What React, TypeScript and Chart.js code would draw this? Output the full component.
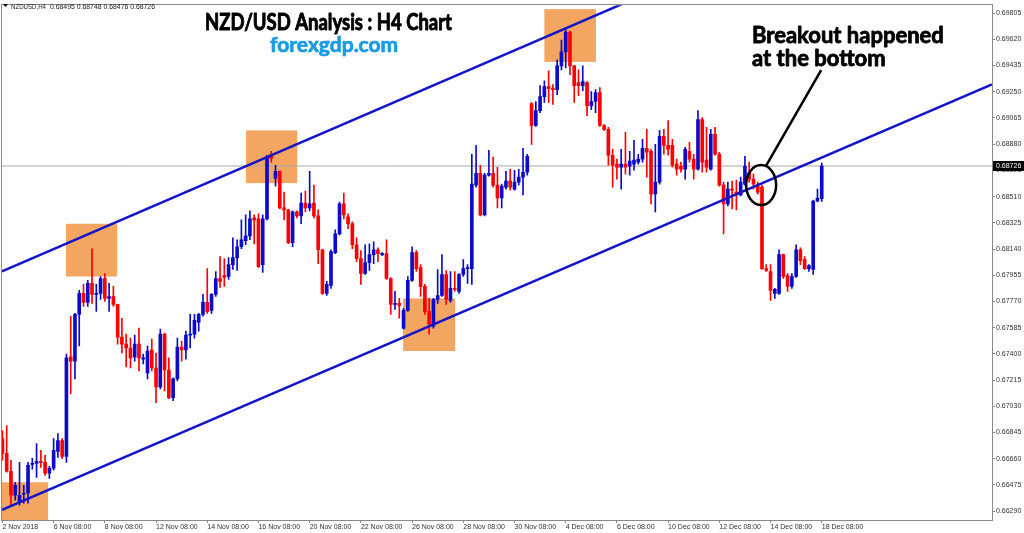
import { useEffect, useRef } from "react";
import { Chart, registerables } from "chart.js";

Chart.register(...registerables);

// ---------------- data (NZD/USD H4 candles) ----------------
const openP = [
  0.66802, 0.66697, 0.66571, 0.66402, 0.66353, 0.66409, 0.66416, 0.6662, 0.66627, 0.66641,
  0.66634, 0.66557, 0.66592, 0.66711, 0.66788, 0.66676, 0.67378, 0.67349, 0.67679, 0.67827,
  0.67763, 0.67897, 0.6782, 0.67827, 0.67932, 0.67791, 0.67805, 0.67749, 0.67518, 0.67469,
  0.67441, 0.67378, 0.67469, 0.67363, 0.67265, 0.67427, 0.673, 0.67167, 0.67539, 0.67286,
  0.6709, 0.67223, 0.67448, 0.67427, 0.67532, 0.67539, 0.67623, 0.67679, 0.67763, 0.67707,
  0.6782, 0.67932, 0.67953, 0.67946, 0.6803, 0.68079, 0.68156, 0.68198, 0.68233, 0.6836,
  0.68353, 0.6803, 0.68353, 0.68795, 0.6864, 0.68689, 0.6843, 0.68416, 0.68184, 0.68402,
  0.68374, 0.68465, 0.6843, 0.68465, 0.68374, 0.68135, 0.67827, 0.67883, 0.68114, 0.68247,
  0.68458, 0.68367, 0.68318, 0.6817, 0.68072, 0.67967, 0.68044, 0.681, 0.68135, 0.681,
  0.68107, 0.67932, 0.67749, 0.67756, 0.67581, 0.67707, 0.67918, 0.68114, 0.68009, 0.67876,
  0.677, 0.67595, 0.67784, 0.67812, 0.6796, 0.67777, 0.67862, 0.67841, 0.6796, 0.68002,
  0.68002, 0.68591, 0.68675, 0.68381, 0.68661, 0.68675, 0.68591, 0.685, 0.68577, 0.68619,
  0.68563, 0.68612, 0.68647, 0.68682, 0.69167, 0.69012, 0.69117, 0.69216, 0.69286, 0.69272,
  0.69265, 0.69433, 0.69531, 0.69672, 0.69433, 0.69314, 0.69293, 0.69314, 0.69152, 0.69181,
  0.69244, 0.69012, 0.68984, 0.68802, 0.68739, 0.68717, 0.68739, 0.68724, 0.68739, 0.68753,
  0.68774, 0.68851, 0.6883, 0.68528, 0.68612, 0.68935, 0.68872, 0.68872, 0.68739, 0.68724,
  0.68703, 0.6883, 0.68774, 0.68703, 0.69054, 0.68767, 0.68703, 0.68949, 0.68809, 0.68591,
  0.68458, 0.68563, 0.68542, 0.68521, 0.68598, 0.68682, 0.68633, 0.68584, 0.68577, 0.68002,
  0.67981, 0.67827, 0.67827, 0.681, 0.67953, 0.67876, 0.67946, 0.68135, 0.68065, 0.68002,
  0.67995, 0.68479, 0.68495,
];
const highP = [
  0.66858, 0.66893, 0.66648, 0.66493, 0.66634, 0.66472, 0.66634, 0.66662, 0.66767, 0.66718,
  0.66683, 0.66606, 0.66802, 0.66837, 0.66802, 0.67399, 0.67665, 0.67686, 0.67848, 0.6789,
  0.67918, 0.68142, 0.6789, 0.67946, 0.67967, 0.67897, 0.67876, 0.67752, 0.67651, 0.67539,
  0.67511, 0.67532, 0.67581, 0.67399, 0.67455, 0.67504, 0.67406, 0.67574, 0.67546, 0.67371,
  0.6723, 0.67511, 0.6749, 0.6756, 0.67679, 0.67679, 0.67686, 0.6782, 0.68002, 0.67826,
  0.67981, 0.68086, 0.68072, 0.68079, 0.68219, 0.68205, 0.68346, 0.68381, 0.68409, 0.68381,
  0.68388, 0.68381, 0.68802, 0.6883, 0.68731, 0.68692, 0.68542, 0.6842, 0.68409, 0.68409,
  0.68535, 0.68549, 0.68689, 0.68591, 0.68416, 0.68138, 0.67911, 0.68135, 0.68275, 0.68472,
  0.68535, 0.68388, 0.68332, 0.68219, 0.68128, 0.6817, 0.68177, 0.68191, 0.68149, 0.68114,
  0.68205, 0.67939, 0.67841, 0.67791, 0.67721, 0.67946, 0.68156, 0.68128, 0.6803, 0.6789,
  0.67791, 0.67791, 0.67995, 0.681, 0.67988, 0.67981, 0.67981, 0.67967, 0.68065, 0.6803,
  0.68809, 0.68872, 0.68731, 0.68675, 0.68837, 0.68788, 0.68717, 0.68598, 0.68689, 0.68703,
  0.68696, 0.68703, 0.68851, 0.68809, 0.69174, 0.69181, 0.69293, 0.69328, 0.69398, 0.693,
  0.69475, 0.69615, 0.69693, 0.69679, 0.69436, 0.69405, 0.69433, 0.69321, 0.69251, 0.69265,
  0.69279, 0.69019, 0.68998, 0.68844, 0.68774, 0.68844, 0.68963, 0.6883, 0.68907, 0.68809,
  0.68914, 0.68984, 0.68844, 0.68879, 0.68977, 0.68984, 0.69047, 0.68914, 0.68774, 0.68753,
  0.68858, 0.68893, 0.68809, 0.69117, 0.69068, 0.68998, 0.68984, 0.68998, 0.68823, 0.68612,
  0.68612, 0.68619, 0.68626, 0.68647, 0.68795, 0.68753, 0.68668, 0.68612, 0.68591, 0.6803,
  0.6803, 0.67862, 0.68135, 0.68104, 0.67967, 0.67967, 0.6817, 0.68149, 0.68086, 0.6803,
  0.68486, 0.68563, 0.68748,
];
const lowP = [
  0.66648, 0.66564, 0.66332, 0.66367, 0.66332, 0.66346, 0.66346, 0.66585, 0.66528, 0.66599,
  0.66542, 0.66521, 0.66578, 0.66669, 0.66662, 0.66634, 0.67118, 0.67223, 0.67455, 0.67735,
  0.67735, 0.67756, 0.677, 0.67784, 0.6777, 0.677, 0.67735, 0.67469, 0.67406, 0.67307,
  0.673, 0.67349, 0.67279, 0.67328, 0.67223, 0.67279, 0.67055, 0.67153, 0.67139, 0.67083,
  0.67069, 0.67209, 0.67349, 0.67363, 0.67441, 0.67511, 0.6756, 0.67665, 0.67686, 0.67686,
  0.67805, 0.67869, 0.67876, 0.67925, 0.67995, 0.67988, 0.68142, 0.6817, 0.68205, 0.68177,
  0.6801, 0.67974, 0.68346, 0.68753, 0.68584, 0.68423, 0.68346, 0.68177, 0.68156, 0.6836,
  0.68318, 0.68402, 0.68409, 0.6836, 0.68037, 0.6782, 0.67812, 0.67862, 0.68107, 0.6824,
  0.68353, 0.68283, 0.68142, 0.68051, 0.6789, 0.6796, 0.67988, 0.68037, 0.68051, 0.68093,
  0.67925, 0.67679, 0.67714, 0.67651, 0.67574, 0.677, 0.67911, 0.67981, 0.67805, 0.67679,
  0.67539, 0.67581, 0.67756, 0.67805, 0.67749, 0.67763, 0.67841, 0.67827, 0.67946, 0.67897,
  0.6789, 0.68577, 0.68374, 0.68374, 0.68654, 0.68577, 0.6843, 0.6843, 0.68563, 0.68556,
  0.68556, 0.68591, 0.68521, 0.68661, 0.68879, 0.69005, 0.69103, 0.69174, 0.69174, 0.6916,
  0.6923, 0.69405, 0.69419, 0.6937, 0.69174, 0.69223, 0.69258, 0.69082, 0.69124, 0.69103,
  0.69005, 0.68977, 0.68731, 0.68577, 0.68633, 0.68563, 0.68668, 0.68661, 0.68696, 0.68739,
  0.68753, 0.68647, 0.68458, 0.68402, 0.68598, 0.68809, 0.68802, 0.68717, 0.68661, 0.68682,
  0.68633, 0.68753, 0.68633, 0.68696, 0.68682, 0.68682, 0.68696, 0.68802, 0.68584, 0.68247,
  0.68444, 0.68423, 0.68416, 0.68514, 0.68591, 0.68612, 0.68563, 0.68528, 0.67995, 0.67981,
  0.67777, 0.67791, 0.6782, 0.67932, 0.67841, 0.67862, 0.67939, 0.6803, 0.67995, 0.67981,
  0.6796, 0.68472, 0.68476,
];
const closeP = [
  0.66697, 0.66571, 0.66402, 0.66472, 0.66402, 0.66416, 0.66613, 0.66627, 0.66641, 0.66634,
  0.66557, 0.66592, 0.66718, 0.66788, 0.66676, 0.67371, 0.67349, 0.67679, 0.67827, 0.67763,
  0.67897, 0.6782, 0.67827, 0.67932, 0.67791, 0.67805, 0.67749, 0.67518, 0.67469, 0.67441,
  0.67371, 0.67469, 0.67371, 0.67371, 0.6742, 0.673, 0.67167, 0.67539, 0.67286, 0.6709,
  0.67223, 0.67448, 0.67427, 0.67532, 0.67539, 0.67637, 0.67679, 0.67763, 0.677, 0.6782,
  0.67932, 0.67911, 0.67939, 0.6803, 0.68079, 0.68156, 0.68205, 0.68233, 0.68353, 0.68346,
  0.68016, 0.68353, 0.68788, 0.68781, 0.68689, 0.6843, 0.68416, 0.68184, 0.68402, 0.68374,
  0.68465, 0.6843, 0.68458, 0.68374, 0.68135, 0.67827, 0.6789, 0.68121, 0.68247, 0.68458,
  0.68381, 0.68318, 0.6817, 0.68072, 0.67967, 0.68044, 0.681, 0.68135, 0.68107, 0.68107,
  0.67932, 0.67749, 0.67756, 0.67742, 0.67707, 0.67918, 0.68114, 0.68002, 0.67876, 0.677,
  0.67609, 0.67784, 0.67812, 0.6796, 0.67784, 0.67862, 0.67855, 0.6796, 0.68002, 0.68009,
  0.68598, 0.68675, 0.68381, 0.68661, 0.68675, 0.68591, 0.685, 0.68584, 0.68619, 0.68577,
  0.68612, 0.68647, 0.68682, 0.68795, 0.69012, 0.69117, 0.69216, 0.69286, 0.69272, 0.69265,
  0.69433, 0.69531, 0.69672, 0.69433, 0.69293, 0.69293, 0.69321, 0.69152, 0.69181, 0.69244,
  0.69012, 0.68984, 0.68802, 0.68731, 0.68717, 0.68739, 0.68717, 0.6876, 0.68767, 0.68774,
  0.68851, 0.68823, 0.68528, 0.68612, 0.68935, 0.68872, 0.68844, 0.68731, 0.68703, 0.68703,
  0.68844, 0.68774, 0.68703, 0.69054, 0.68753, 0.68717, 0.68949, 0.68809, 0.68591, 0.68458,
  0.68563, 0.68556, 0.68521, 0.68612, 0.68724, 0.68633, 0.68598, 0.68542, 0.68002, 0.67988,
  0.67848, 0.67855, 0.681, 0.67946, 0.67876, 0.67946, 0.68135, 0.68058, 0.68002, 0.68023,
  0.68479, 0.685, 0.68726,
];

const xTickLabels = [
  "2 Nov 2018", "6 Nov 08:00", "8 Nov 08:00", "12 Nov 08:00", "14 Nov 08:00", "16 Nov 08:00",
  "20 Nov 08:00", "22 Nov 08:00", "26 Nov 08:00", "28 Nov 08:00", "30 Nov 08:00", "4 Dec 08:00",
  "6 Dec 08:00", "10 Dec 08:00", "12 Dec 08:00", "14 Dec 08:00", "18 Dec 08:00",
];
const barsPerLabel = 12;

const yTickValues = [
  0.6629, 0.66475, 0.6666, 0.66845, 0.6703, 0.67215, 0.674, 0.67585, 0.6777, 0.67955,
  0.6814, 0.68325, 0.6851, 0.68695, 0.6888, 0.69065, 0.6925, 0.69435, 0.6962, 0.69805,
];

const lastPrice = 0.68726;
const headerSymbol = "NZDUSD,H4";
const headerOHLC = "0.68495 0.68748 0.68476 0.68726";

// view window (bar index / price)
const X_MIN = -0.1;
const X_MAX = 231.9;
const Y_MIN = 0.66227;
const Y_MAX = 0.69861;

// channel lines: price at the left and at the right edge of the view
const upperChannel = [0.67982, 0.70995];
const lowerChannel = [0.66298, 0.69302];

// highlighted zones: bar index range and price range
const zoneFrom = [-0.1, 14.9, 57.1, 93.9, 127.0];
const zoneTo = [10.7, 26.9, 69.1, 106.1, 139.1];
const zoneTop = [0.66493, 0.68318, 0.68977, 0.67791, 0.69833];
const zoneBottom = [0.66227, 0.67946, 0.68605, 0.6742, 0.69461];

// breakout marker (bar index, price)
const breakoutBar = 177.8;
const breakoutPrice = 0.68591;

const titleText = "NZD/USD Analysis : H4 Chart";
const siteText = "forexgdp.com";
const noteLine1 = "Breakout happened";
const noteLine2 = "at the bottom";

// ---------------- styles ----------------
const BULL = "rgb(12,12,200)";
const BEAR = "rgb(255,0,0)";
const LINE_BLUE = "rgb(20,20,200)";
const ZONE = "#F3A562";
const FRAME = "#8a8a8a";
const AXIS_TEXT = "#333333";

const isBull = (i: number) => closeP[i] >= openP[i];

function heavyText(ctx: any, text: string, x: number, y: number, maxW: number, color: string, weight: number) {
  ctx.fillStyle = color;
  ctx.strokeStyle = color;
  ctx.lineWidth = weight;
  ctx.lineJoin = "round";
  ctx.fillText(text, x, y, maxW);
  ctx.strokeText(text, x, y, maxW);
}

const overlayPlugin = {
  id: "overlay",
  beforeDatasetsDraw(chart: any) {
    const { ctx, chartArea, scales } = chart;
    const xs = scales.x;
    const ys = scales.y;
    ctx.save();
    ctx.beginPath();
    ctx.rect(chartArea.left, chartArea.top, chartArea.right - chartArea.left, chartArea.bottom - chartArea.top);
    ctx.clip();
    ctx.fillStyle = ZONE;
    for (let k = 0; k < zoneFrom.length; k++) {
      const x0 = xs.getPixelForValue(zoneFrom[k]);
      const x1 = xs.getPixelForValue(zoneTo[k]);
      const y0 = ys.getPixelForValue(zoneTop[k]);
      const y1 = ys.getPixelForValue(zoneBottom[k]);
      ctx.fillRect(x0, y0, x1 - x0, y1 - y0);
    }
    ctx.restore();
  },
  afterDraw(chart: any) {
    const { ctx, chartArea, scales } = chart;
    const xs = scales.x;
    const ys = scales.y;
    ctx.save();
    // frame
    ctx.strokeStyle = FRAME;
    ctx.lineWidth = 1;
    ctx.strokeRect(
      Math.round(chartArea.left) - 0.5,
      Math.round(chartArea.top) - 0.5,
      Math.round(chartArea.right - chartArea.left) + 1,
      Math.round(chartArea.bottom - chartArea.top) + 1
    );

    // header
    ctx.fillStyle = "#000";
    ctx.beginPath();
    ctx.moveTo(3, 4);
    ctx.lineTo(8, 4);
    ctx.lineTo(5.5, 7);
    ctx.closePath();
    ctx.fill();
    ctx.fillStyle = "#222";
    ctx.font = '6.5px "Liberation Sans"';
    ctx.textAlign = "left";
    ctx.textBaseline = "alphabetic";
    ctx.fillText(headerSymbol, 11, 8.5, 35);
    ctx.font = '7px "Liberation Sans"';
    ctx.fillText(headerOHLC, 50, 8.5, 105);

    // titles
    ctx.font = "bold 22px Lato";
    heavyText(ctx, titleText, 205, 29.5, 247, "#000", 0.9);
    ctx.font = "bold 21px Lato";
    heavyText(ctx, siteText, 270, 52, 133, "#1B9BE3", 0.7);
    ctx.font = "bold 22px Lato";
    heavyText(ctx, noteLine1, 752, 42.5, 194, "#000", 0.8);
    heavyText(ctx, noteLine2, 752, 65.5, 134, "#000", 0.8);

    // breakout ellipse + pointer
    const cx = xs.getPixelForValue(breakoutBar);
    const cy = ys.getPixelForValue(breakoutPrice);
    ctx.strokeStyle = "#000";
    ctx.lineWidth = 2.5;
    ctx.beginPath();
    ctx.ellipse(cx, cy, 15, 20, 0, 0, Math.PI * 2);
    ctx.stroke();
    ctx.beginPath();
    ctx.moveTo(cx + 5, cy - 19.5);
    ctx.lineTo(cx + 60, cy - 115);
    ctx.stroke();

    // last price label
    const py = ys.getPixelForValue(lastPrice);
    ctx.fillStyle = "#000";
    ctx.fillRect(chartArea.right + 1, py - 5, 40, 10);
    ctx.fillStyle = "#fff";
    ctx.font = '7px "Liberation Sans"';
    ctx.textBaseline = "middle";
    ctx.fillText(lastPrice.toFixed(5), chartArea.right + 4, py + 0.5);
    ctx.restore();
  },
};

export default function App() {
  const ref = useRef<HTMLCanvasElement>(null);

  useEffect(() => {
    if (!ref.current) return;
    const bodies = openP.map((o, i) => ({ x: i, y: [o, closeP[i]] }));
    const wicks = lowP.map((l, i) => ({ x: i, y: [l, highP[i]] }));
    const colorOf = (c: any) => (isBull(c.dataIndex) ? BULL : BEAR);
    const tickFont = { family: '"Liberation Sans", Arial, sans-serif', size: 7 };

    const chart = new Chart(ref.current, {
      type: "bar",
      data: {
        datasets: [
          {
            type: "line",
            label: "upper",
            data: [
              { x: X_MIN, y: upperChannel[0] },
              { x: X_MAX, y: upperChannel[1] },
            ],
            borderColor: LINE_BLUE,
            borderWidth: 2.5,
            pointRadius: 0,
            fill: false,
            order: 0,
          } as any,
          {
            type: "line",
            label: "lower",
            data: [
              { x: X_MIN, y: lowerChannel[0] },
              { x: X_MAX, y: lowerChannel[1] },
            ],
            borderColor: LINE_BLUE,
            borderWidth: 2.5,
            pointRadius: 0,
            fill: false,
            order: 0,
          } as any,
          {
            type: "bar",
            label: "body",
            data: bodies as any,
            backgroundColor: colorOf,
            borderWidth: 0,
            barThickness: 3,
            minBarLength: 1,
            grouped: false,
            order: 1,
          } as any,
          {
            type: "bar",
            label: "wick",
            data: wicks as any,
            backgroundColor: colorOf,
            borderWidth: 0,
            barThickness: 1,
            grouped: false,
            order: 2,
          } as any,
          {
            type: "line",
            label: "last",
            data: [
              { x: X_MIN, y: lastPrice },
              { x: X_MAX, y: lastPrice },
            ],
            borderColor: "#a9a9a9",
            borderWidth: 1,
            pointRadius: 0,
            fill: false,
            order: 3,
          } as any,
        ],
      },
      options: {
        animation: false,
        responsive: true,
        maintainAspectRatio: false,
        events: [],
        layout: { padding: { left: 2, top: 2, right: 0, bottom: 0 } },
        plugins: { legend: { display: false }, tooltip: { enabled: false } },
        scales: {
          x: {
            type: "linear",
            position: "bottom",
            min: X_MIN,
            max: X_MAX,
            offset: false,
            afterFit: (s: any) => {
              s.height = 13;
            },
            afterBuildTicks: (s: any) => {
              s.ticks = xTickLabels.map((_, k) => ({ value: k * barsPerLabel }));
            },
            ticks: {
              autoSkip: false,
              maxRotation: 0,
              minRotation: 0,
              align: "start",
              padding: 0,
              color: AXIS_TEXT,
              font: tickFont,
              callback: (v: any) => xTickLabels[Math.round(Number(v) / barsPerLabel)] ?? "",
            },
            grid: { offset: false, drawOnChartArea: false, drawTicks: true, tickLength: 3, color: FRAME },
            border: { display: false },
          } as any,
          y: {
            type: "linear",
            position: "right",
            min: Y_MIN,
            max: Y_MAX,
            beginAtZero: false,
            afterFit: (s: any) => {
              s.width = 32;
            },
            afterBuildTicks: (s: any) => {
              s.ticks = yTickValues.map((v) => ({ value: v }));
            },
            ticks: {
              autoSkip: false,
              padding: 1,
              color: AXIS_TEXT,
              font: tickFont,
              callback: (v: any) => Number(v).toFixed(5),
            },
            grid: { drawOnChartArea: false, drawTicks: true, tickLength: 3, color: FRAME },
            border: { display: false },
          } as any,
        },
      },
      plugins: [overlayPlugin],
    });
    return () => chart.destroy();
  }, []);

  return (
    <div style={{ position: "fixed", left: 0, top: 0, width: 1024, height: 533, background: "#fff" }}>
      <canvas ref={ref} />
    </div>
  );
}
